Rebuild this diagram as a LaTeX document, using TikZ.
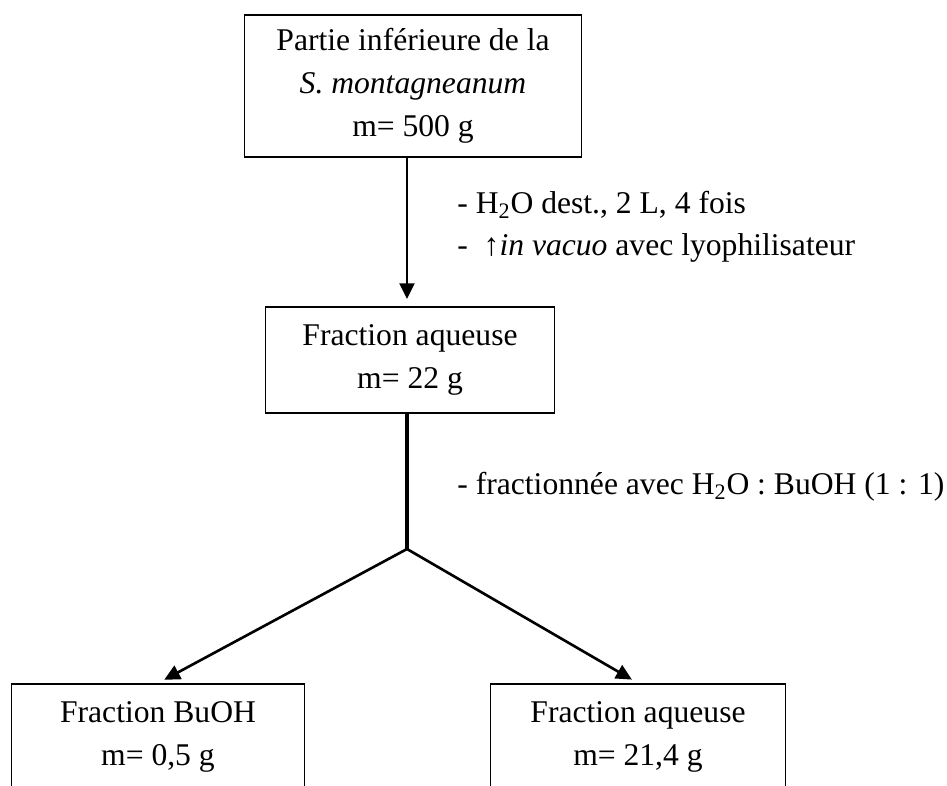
\documentclass[tikz,border=0pt]{standalone}
\usepackage{fontspec}
\setmainfont{Liberation Serif}
\usetikzlibrary{arrows.meta}
\begin{document}
\begin{tikzpicture}[x=0.02cm,y=-0.02cm,
  every node/.style={font=\fontsize{18}{24.5}\selectfont},
  box/.style={draw,line width=1pt,align=center,inner sep=0pt},
  arr/.style={-{Triangle[length=9pt,width=8.5pt]},line width=1.5pt,shorten >=4pt},
  txt/.style={anchor=west,inner sep=0pt}]
\useasboundingbox (0,0) rectangle (947,785);
\clip (0,0) rectangle (947,785);

\node[box,minimum width=6.74cm,minimum height=2.84cm] (A) at (413,86){Partie inférieure de la\\ \textit{S. montagneanum}\\ m= 500 g};
\node[box,minimum width=5.78cm,minimum height=2.12cm] (B) at (410,360){Fraction aqueuse\\ m= 22 g};
\node[box,minimum width=5.86cm,minimum height=2.12cm] (C) at (158,737){Fraction BuOH\\ m= 0,5 g};
\node[box,minimum width=5.9cm,minimum height=2.12cm] (D) at (638,737){Fraction aqueuse\\ m= 21,4 g};
\coordinate (J) at (407,549);

\node[txt] (L1) at (457,205){- H\textsubscript{2}O dest., 2 L, 4 fois};
\node[txt] (L2) at (457,248){-\ \ ↑\textit{in vacuo} avec lyophilisateur};
\node[txt] (L3) at (457,487){- fractionnée avec H\textsubscript{2}O : BuOH (1 : 1)};

\draw[arr] (A.south -| J) -- (B.north -| J);
\draw[line width=2.2pt] (B.south -| J) -- (J);
\draw[arr] (J) -- (C.north);
\draw[arr] (J) -- (D.north);

\end{tikzpicture}
\end{document}
